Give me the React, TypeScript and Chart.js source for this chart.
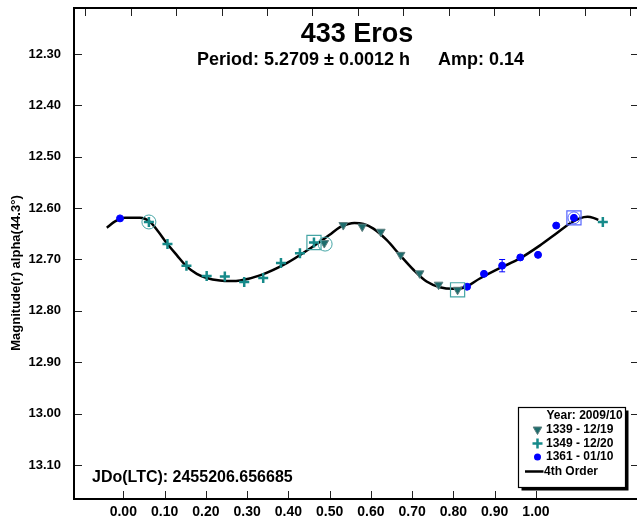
import React, { useEffect, useRef } from 'react';
import { Chart, registerables } from 'chart.js';

Chart.register(...registerables);

const FONT = '"Liberation Sans", Arial, Helvetica, sans-serif';

// ---- axes ----
const xTickValues = [0, 0.1, 0.2, 0.3, 0.4, 0.5, 0.6, 0.7, 0.8, 0.9, 1.0];
const yTickValues = [12.3, 12.4, 12.5, 12.6, 12.7, 12.8, 12.9, 13.0, 13.1];
const xMin = -0.1195;
const xMax = 1.2448;
const yMin = 12.2105;
const yMax = 13.1662;
const topTickValues = [0, 1, 2, 3, 4, 5, 6, 7, 8, 9, 10, 11, 12];
const topMin = -0.25;
const topMax = 12.15;

// ---- texts ----
const titleText = '433 Eros';
const periodText = 'Period: 5.2709 \u00b1 0.0012 h';
const ampText = 'Amp: 0.14';
const yAxisTitle = 'Magnitude(r) alpha(44.3\u00b0)';
const jdText = 'JDo(LTC): 2455206.656685';
const legendYear = 'Year: 2009/10';
const legendLabels = ['1339 - 12/19', '1349 - 12/20', '1361 - 01/10', '4th Order'];

// ---- session 1339 (12/19) ----
const phase1339 = [0.487, 0.533, 0.579, 0.624, 0.672, 0.718, 0.764, 0.810];
const mag1339 = [12.668, 12.633, 12.636, 12.646, 12.691, 12.727, 12.749, 12.759];

// ---- session 1349 (12/20) ----
const phase1349 = [0.062, 0.107, 0.153, 0.202, 0.246, 0.293, 0.339, 0.382, 0.428, 0.462, 1.162];
const mag1349 = [12.627, 12.670, 12.712, 12.732, 12.733, 12.744, 12.736, 12.707, 12.688, 12.667, 12.627];

// ---- session 1361 (01/10) ----
const phase1361 = [-0.008, 0.833, 0.874, 0.918, 0.962, 1.005, 1.049, 1.092];
const mag1361 = [12.620, 12.753, 12.728, 12.712, 12.696, 12.691, 12.634, 12.619];
const err1361 = [0, 0, 0, 0.012, 0, 0, 0, 0];

// ---- highlighted points (boxes / circles) ----
const boxPhase = [0.462, 0.810, 1.092];
const boxMag = [12.667, 12.759, 12.619];
const circlePhase = [0.062, 0.489, 1.092];
const circleMag = [12.627, 12.670, 12.619];

// ---- 4th order fit curve ----
const curvePhase = [
  -0.040, -0.020, 0.004, 0.040, 0.065, 0.085, 0.105, 0.130, 0.154, 0.178, 0.202, 0.234, 0.260,
  0.283, 0.331, 0.396, 0.444, 0.476, 0.500, 0.525, 0.545, 0.560, 0.582, 0.606, 0.638, 0.670,
  0.703, 0.735, 0.767, 0.800, 0.828, 0.864, 0.912, 0.961, 1.009, 1.050, 1.082, 1.106, 1.125,
  1.139, 1.151,
];
const curveMag = [
  12.638, 12.626, 12.619, 12.619, 12.627, 12.646, 12.668, 12.692, 12.714, 12.728, 12.736, 12.741, 12.742,
  12.741, 12.731, 12.707, 12.683, 12.666, 12.652, 12.637, 12.631, 12.629, 12.631, 12.640, 12.662, 12.691,
  12.720, 12.743, 12.754, 12.757, 12.754, 12.737, 12.717, 12.698, 12.673, 12.649, 12.630, 12.620, 12.617,
  12.619, 12.623,
];

const TEAL_TRI = '#1d6c6c';
const TEAL_PLUS = '#168a8a';
const TEAL_RING = '#45a5a5';
const BLUE = '#0000ff';
const BLUE_RING = '#5565ff';

const pts = (xs: number[], ys: number[]) => xs.map((x, i) => ({ x, y: ys[i] }));

const zeroPad = (s: any) => {
  s.paddingTop = 0;
  s.paddingBottom = 0;
  s.paddingLeft = 0;
  s.paddingRight = 0;
};

function drawTriDown(ctx: CanvasRenderingContext2D, cx: number, cy: number, r: number) {
  ctx.beginPath();
  ctx.moveTo(cx, cy + r);
  ctx.lineTo(cx - r * 0.866, cy - r / 2);
  ctx.lineTo(cx + r * 0.866, cy - r / 2);
  ctx.closePath();
  ctx.fillStyle = TEAL_TRI;
  ctx.fill();
  ctx.strokeStyle = '#5d7f7f';
  ctx.lineWidth = 1;
  ctx.stroke();
}

const decorPlugin = {
  id: 'decor',
  beforeDatasetsDraw(chart: any) {
    const ctx: CanvasRenderingContext2D = chart.ctx;
    const { x, y } = chart.scales;
    ctx.save();
    ctx.strokeStyle = BLUE;
    ctx.lineWidth = 1;
    phase1361.forEach((p, i) => {
      const e = err1361[i];
      if (!e) return;
      const px = x.getPixelForValue(p);
      const y1 = y.getPixelForValue(mag1361[i] - e);
      const y2 = y.getPixelForValue(mag1361[i] + e);
      ctx.beginPath();
      ctx.moveTo(px, y1);
      ctx.lineTo(px, y2);
      ctx.moveTo(px - 3, y1);
      ctx.lineTo(px + 3, y1);
      ctx.moveTo(px - 3, y2);
      ctx.lineTo(px + 3, y2);
      ctx.stroke();
    });
    ctx.restore();
  },
  afterDraw(chart: any) {
    const ctx: CanvasRenderingContext2D = chart.ctx;
    const { x, y, xTop } = chart.scales;
    const a = chart.chartArea;
    ctx.save();
    // ticks
    ctx.strokeStyle = '#222';
    ctx.lineWidth = 1;
    ctx.beginPath();
    yTickValues.forEach((v) => {
      const py = Math.round(y.getPixelForValue(v)) + 0.5;
      ctx.moveTo(a.left, py);
      ctx.lineTo(a.left + 8, py);
      ctx.moveTo(a.right - 6, py);
      ctx.lineTo(a.right, py);
    });
    xTickValues.forEach((v) => {
      const px = Math.round(x.getPixelForValue(v)) + 0.5;
      ctx.moveTo(px, a.bottom);
      ctx.lineTo(px, a.bottom - 8);
    });
    topTickValues.forEach((v) => {
      const px = Math.round(xTop.getPixelForValue(v)) + 0.5;
      ctx.moveTo(px, a.top);
      ctx.lineTo(px, a.top + 8);
    });
    ctx.stroke();
    // frame
    ctx.strokeStyle = '#000';
    ctx.lineWidth = 2;
    ctx.beginPath();
    ctx.moveTo(a.right + 2, a.top);
    ctx.lineTo(a.left, a.top);
    ctx.lineTo(a.left, a.bottom);
    ctx.lineTo(a.right + 2, a.bottom);
    ctx.stroke();

    // titles
    ctx.fillStyle = '#000';
    ctx.textBaseline = 'alphabetic';
    ctx.textAlign = 'center';
    ctx.font = `bold 27px ${FONT}`;
    ctx.fillText(titleText, 357, 42);
    ctx.textAlign = 'left';
    ctx.font = `bold 18px ${FONT}`;
    ctx.fillText(periodText, 197, 65);
    ctx.fillText(ampText, 438, 65);
    ctx.font = `bold 16px ${FONT}`;
    ctx.fillText(jdText, 92, 482);

    // y-axis title
    ctx.save();
    ctx.translate(16.5, 273);
    ctx.rotate(-Math.PI / 2);
    ctx.textAlign = 'center';
    ctx.textBaseline = 'middle';
    ctx.font = `bold 13px ${FONT}`;
    ctx.fillText(yAxisTitle, 0, 0);
    ctx.restore();

    // legend
    const lx = 518.5, ly = 407.5, lw = 107, lh = 80;
    ctx.fillStyle = '#000';
    ctx.fillRect(lx + 3, ly + 3, lw, lh);
    ctx.fillStyle = '#fff';
    ctx.fillRect(lx, ly, lw, lh);
    ctx.strokeStyle = '#000';
    ctx.lineWidth = 1.2;
    ctx.strokeRect(lx, ly, lw, lh);
    ctx.fillStyle = '#000';
    ctx.font = `bold 12px ${FONT}`;
    ctx.textAlign = 'left';
    ctx.textBaseline = 'middle';
    ctx.fillText(legendYear, 546.5, 415.5);
    const rowY = [430, 443.5, 457, 471.5];
    legendLabels.forEach((t, i) => {
      ctx.fillStyle = '#000';
      ctx.fillText(t, i === 3 ? 544 : 546, rowY[i]);
    });
    drawTriDown(ctx, 537.5, rowY[0] - 0.5, 5);
    ctx.strokeStyle = TEAL_PLUS;
    ctx.lineWidth = 2.5;
    ctx.beginPath();
    ctx.moveTo(537.5, rowY[1] - 5);
    ctx.lineTo(537.5, rowY[1] + 5);
    ctx.moveTo(532.5, rowY[1]);
    ctx.lineTo(542.5, rowY[1]);
    ctx.stroke();
    ctx.fillStyle = BLUE;
    ctx.beginPath();
    ctx.arc(537.5, rowY[2], 3.5, 0, Math.PI * 2);
    ctx.fill();
    ctx.strokeStyle = '#000';
    ctx.lineWidth = 2.5;
    ctx.beginPath();
    ctx.moveTo(525, rowY[3]);
    ctx.lineTo(543.5, rowY[3]);
    ctx.stroke();
    ctx.restore();
  },
};

export default function App() {
  const canvasRef = useRef<HTMLCanvasElement | null>(null);

  useEffect(() => {
    const canvas = canvasRef.current;
    if (!canvas) return;
    const chart = new Chart(canvas, {
      type: 'scatter',
      data: {
        datasets: [
          {
            label: 'circles',
            data: pts(circlePhase, circleMag),
            pointStyle: 'circle',
            pointRadius: [7, 7, 6],
            pointBackgroundColor: 'rgba(0,0,0,0)',
            pointBorderColor: [TEAL_RING, TEAL_RING, BLUE_RING],
            pointBorderWidth: 1,
            showLine: false,
          },
          {
            label: 'boxes',
            data: pts(boxPhase, boxMag),
            pointStyle: 'rect',
            pointRadius: 10,
            pointBackgroundColor: 'rgba(0,0,0,0)',
            pointBorderColor: [TEAL_RING, TEAL_RING, BLUE_RING],
            pointBorderWidth: 1.2,
            showLine: false,
          },
          {
            label: legendLabels[2],
            data: pts(phase1361, mag1361),
            pointStyle: 'circle',
            pointRadius: 3.5,
            pointBackgroundColor: BLUE,
            pointBorderColor: BLUE,
            pointBorderWidth: 1,
            showLine: false,
          },
          {
            label: legendLabels[0],
            data: pts(phase1339, mag1339),
            pointStyle: 'triangle',
            rotation: 180,
            pointRadius: 5,
            pointBackgroundColor: TEAL_TRI,
            pointBorderColor: '#5d7f7f',
            pointBorderWidth: 1,
            showLine: false,
          },
          {
            label: legendLabels[1],
            data: pts(phase1349, mag1349),
            pointStyle: 'cross',
            pointRadius: 5,
            pointBorderColor: TEAL_PLUS,
            pointBorderWidth: 2.5,
            showLine: false,
          },
          {
            type: 'line',
            label: legendLabels[3],
            data: pts(curvePhase, curveMag),
            borderColor: '#000',
            borderWidth: 2.5,
            pointRadius: 0,
            showLine: true,
            cubicInterpolationMode: 'monotone',
            fill: false,
          } as any,
        ],
      },
      options: {
        responsive: false,
        animation: false,
        devicePixelRatio: 1,
        layout: { padding: 0, autoPadding: false },
        plugins: {
          legend: { display: false },
          tooltip: { enabled: false },
          title: { display: false },
        },
        scales: {
          x: {
            type: 'linear',
            position: 'bottom',
            min: xMin,
            max: xMax,
            grid: { display: false, drawTicks: false },
            border: { display: false },
            afterBuildTicks: (s: any) => {
              s.ticks = xTickValues.map((v) => ({ value: v }));
            },
            afterFit: (s: any) => {
              s.height = 20;
              zeroPad(s);
            },
            ticks: {
              autoSkip: false,
              maxRotation: 0,
              minRotation: 0,
              padding: 6,
              color: '#000',
              font: { family: FONT, size: 14, weight: 'bold', lineHeight: 1 },
              callback: (v: any) => Number(v).toFixed(2),
            },
          },
          xTop: {
            type: 'linear',
            position: 'top',
            min: topMin,
            max: topMax,
            grid: { display: false, drawTicks: false },
            border: { display: false },
            ticks: { display: false },
            afterFit: (s: any) => {
              s.height = 8;
              zeroPad(s);
            },
          },
          y: {
            type: 'linear',
            position: 'left',
            reverse: true,
            min: yMin,
            max: yMax,
            grid: { display: false, drawTicks: false },
            border: { display: false },
            afterBuildTicks: (s: any) => {
              s.ticks = yTickValues.map((v) => ({ value: v }));
            },
            afterFit: (s: any) => {
              s.width = 74;
              zeroPad(s);
            },
            ticks: {
              padding: 13,
              color: '#000',
              font: { family: FONT, size: 13, weight: 'bold', lineHeight: 1 },
              callback: (v: any) => Number(v).toFixed(2),
            },
          },
        },
      } as any,
      plugins: [decorPlugin],
    });
    return () => chart.destroy();
  }, []);

  return (
    <div style={{ position: 'fixed', left: 0, top: 0, width: 637, height: 519, background: '#fff' }}>
      <canvas ref={canvasRef} width={637} height={519} style={{ display: 'block', width: 637, height: 519 }} />
    </div>
  );
}
